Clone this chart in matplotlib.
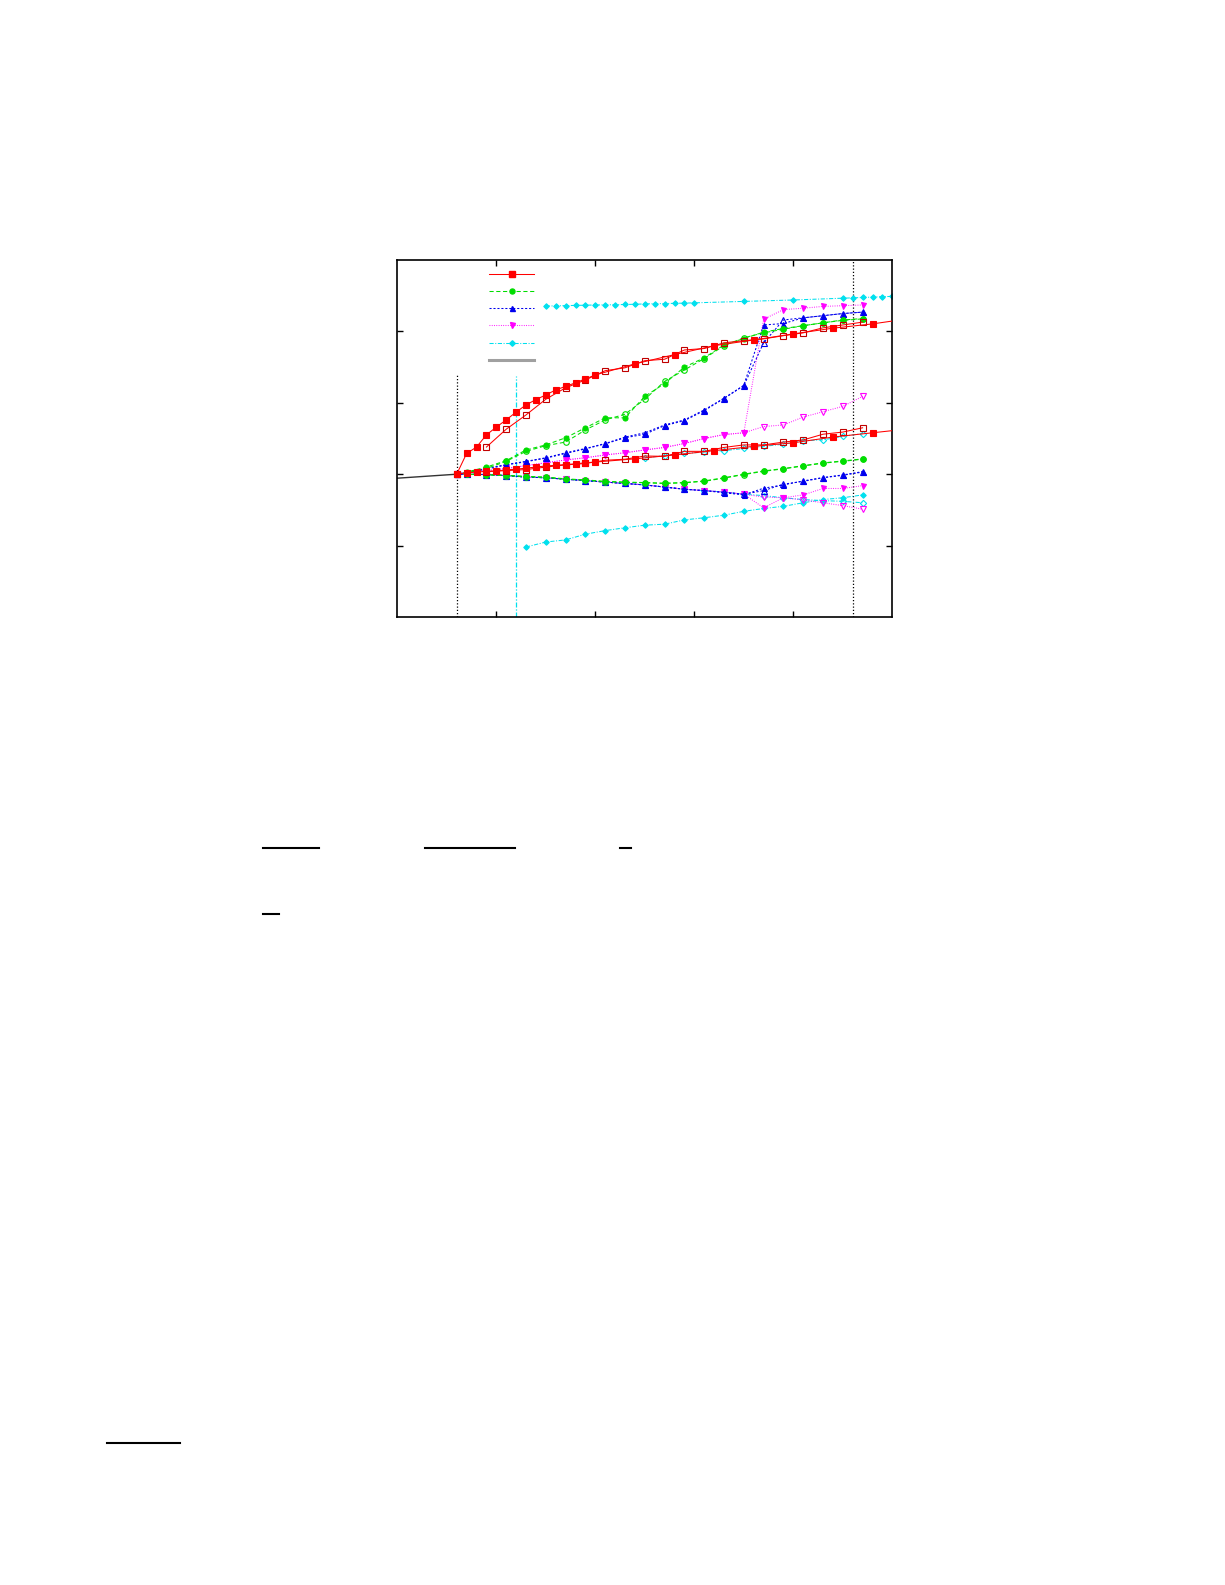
import matplotlib
matplotlib.use("Agg")
import matplotlib.pyplot as plt
from matplotlib.lines import Line2D

# ---------------- data ----------------
# red (filled squares) - upper and lower branch
X_RF = [0.6, 0.7, 0.8, 0.9, 1.0, 1.1, 1.2, 1.3, 1.4, 1.5, 1.6, 1.7, 1.8, 1.9, 2.0,
        2.4, 2.8, 3.2, 3.6, 4.0, 4.4, 4.8, 5.2]
RF_UP = [0.0, 0.29, 0.38, 0.55, 0.66, 0.76, 0.87, 0.97, 1.045, 1.11, 1.18, 1.23, 1.28,
         1.335, 1.39, 1.545, 1.675, 1.80, 1.88, 1.965, 2.045, 2.105, 2.185]
RF_LO = [0.0, 0.02, 0.03, 0.04, 0.046, 0.06, 0.07, 0.085, 0.10, 0.115, 0.125, 0.135,
         0.145, 0.16, 0.17, 0.215, 0.27, 0.33, 0.39, 0.44, 0.52, 0.58, 0.64]
# red (open squares)
X_RO = [0.9, 1.1, 1.3, 1.5, 1.7, 1.9, 2.1, 2.3, 2.5, 2.7, 2.9, 3.1, 3.3, 3.5, 3.7,
        3.9, 4.1, 4.3, 4.5, 4.7]
RO_UP = [0.38, 0.63, 0.83, 1.05, 1.21, 1.32, 1.45, 1.49, 1.59, 1.61, 1.74, 1.76, 1.84,
         1.87, 1.895, 1.94, 1.98, 2.05, 2.09, 2.13]
RO_LO = [0.035, 0.05, 0.065, 0.10, 0.13, 0.15, 0.195, 0.21, 0.255, 0.25, 0.32, 0.32,
         0.375, 0.41, 0.41, 0.45, 0.48, 0.56, 0.59, 0.65]

# common abscissa of green / blue / magenta series
X_C = [0.6, 0.7, 0.9, 1.1, 1.3, 1.5, 1.7, 1.9, 2.1, 2.3, 2.5, 2.7, 2.9, 3.1, 3.3, 3.5,
       3.7, 3.9, 4.1, 4.3, 4.5, 4.7]
GF_UP = [0.0, 0.03, 0.10, 0.19, 0.34, 0.41, 0.51, 0.65, 0.79, 0.79, 1.09, 1.27, 1.50,
         1.63, 1.81, 1.90, 1.99, 2.04, 2.08, 2.12, 2.155, 2.175]
GO_UP = [0.0, 0.02, 0.08, 0.18, 0.32, 0.40, 0.45, 0.62, 0.76, 0.84, 1.05, 1.30, 1.46,
         1.62, 1.80, 1.91, 1.98, 2.03, 2.08, 2.12, 2.16, 2.18]
GF_LO = [0.0, 0.0, -0.005, -0.015, -0.03, -0.04, -0.065, -0.08, -0.10, -0.11, -0.117,
         -0.126, -0.117, -0.094, -0.05, 0.0, 0.046, 0.079, 0.12, 0.158, 0.186, 0.214]
GO_LO = [0.0, 0.0, -0.01, -0.02, -0.035, -0.045, -0.07, -0.085, -0.105, -0.115, -0.12,
         -0.13, -0.12, -0.10, -0.055, -0.005, 0.04, 0.075, 0.115, 0.155, 0.18, 0.21]

BF_UP = [0.0, 0.03, 0.08, 0.135, 0.18, 0.23, 0.30, 0.36, 0.43, 0.52, 0.58, 0.69, 0.76,
         0.90, 1.065, 1.245, 2.09, 2.11, 2.19, 2.22, 2.25, 2.27]
BO_UP = [0.0, 0.02, 0.07, 0.13, 0.175, 0.225, 0.29, 0.355, 0.425, 0.51, 0.56, 0.68,
         0.75, 0.89, 1.06, 1.24, 1.84, 2.16, 2.19, 2.22, 2.25, 2.27]
BF_LO = [0.0, 0.0, -0.005, -0.02, -0.04, -0.05, -0.07, -0.09, -0.11, -0.13, -0.15,
         -0.18, -0.21, -0.23, -0.26, -0.29, -0.196, -0.15, -0.094, -0.047, -0.01, 0.036]
BO_LO = [0.0, 0.0, -0.005, -0.02, -0.04, -0.05, -0.07, -0.09, -0.11, -0.13, -0.15,
         -0.18, -0.21, -0.23, -0.25, -0.28, -0.23, -0.14, -0.10, -0.05, -0.015, 0.03]

MF_UP = [0.0, 0.02, 0.05, 0.08, 0.12, 0.16, 0.20, 0.23, 0.27, 0.30, 0.34, 0.375, 0.43,
         0.50, 0.555, 0.58, 2.17, 2.305, 2.325, 2.35, 2.36, 2.37]
MO_UP = [0.0, 0.02, 0.05, 0.08, 0.12, 0.16, 0.20, 0.23, 0.27, 0.30, 0.34, 0.375, 0.43,
         0.50, 0.555, 0.58, 0.667, 0.69, 0.80, 0.875, 0.95, 1.09]
MF_LO = [0.0, 0.0, -0.005, -0.02, -0.04, -0.05, -0.07, -0.09, -0.11, -0.13, -0.15,
         -0.18, -0.21, -0.23, -0.25, -0.28, -0.47, -0.33, -0.29, -0.20, -0.20, -0.16]
MO_LO = [0.0, 0.0, -0.005, -0.02, -0.04, -0.05, -0.07, -0.09, -0.11, -0.13, -0.15,
         -0.18, -0.21, -0.23, -0.25, -0.28, -0.32, -0.33, -0.36, -0.40, -0.44, -0.49]

# cyan
X_CF_UP = [1.5, 1.6, 1.7, 1.8, 1.9, 2.0, 2.1, 2.2, 2.3, 2.4, 2.5, 2.6, 2.7, 2.8, 2.9,
           3.0, 3.5, 4.0, 4.5, 4.6, 4.7, 4.8, 4.9, 5.0]
CF_UP = [2.355, 2.358, 2.361, 2.364, 2.367, 2.37, 2.372, 2.374, 2.377, 2.38, 2.385,
         2.388, 2.39, 2.393, 2.396, 2.40, 2.42, 2.44, 2.465, 2.47, 2.475, 2.48, 2.487, 2.49]
X_CF_LO = [1.3, 1.5, 1.7, 1.9, 2.1, 2.3, 2.5, 2.7, 2.9, 3.1, 3.3, 3.5, 3.7, 3.9, 4.1,
           4.3, 4.5, 4.7]
CF_LO = [-1.02, -0.95, -0.92, -0.84, -0.79, -0.75, -0.714, -0.70, -0.64, -0.61, -0.574,
         -0.52, -0.48, -0.45, -0.40, -0.355, -0.33, -0.29]
CO_LO = [0.0, 0.0, -0.005, -0.02, -0.04, -0.05, -0.07, -0.09, -0.11, -0.13, -0.15,
         -0.18, -0.21, -0.23, -0.25, -0.28, -0.30, -0.33, -0.355, -0.37, -0.38, -0.40]
X_CO_UP = [2.5, 2.7, 2.9, 3.1, 3.3, 3.5, 3.7, 3.9, 4.1, 4.3, 4.5, 4.7]
CO_UP = [0.23, 0.26, 0.29, 0.31, 0.33, 0.36, 0.39, 0.42, 0.47, 0.48, 0.53, 0.57]

# gray reference line
X_G = [0.0, 0.6]
Y_G = [-0.056, 0.0]

# vertical marker lines
VL_X = [0.6, 4.6]
VL_TOP = [1.39, 3.0]
CYAN_VL_X = 1.2
CYAN_VL_TOP = 1.38

XTICKS = [1, 2, 3, 4]
YTICKS = [-1, 0, 1, 2]

# ---------------- styles ----------------
RED, GREEN, BLUE, MAG, CYAN = "#ff0000", "#00dd00", "#0000ee", "#ff00ff", "#00e0ee"
LS_G = (0, (4, 2.5))
LS_B = (0, (2, 1.8))
LS_M = (0, (0.8, 1.4))
LS_C = (0, (4, 1.5, 1, 1.5))
LW = 0.75

fig = plt.figure(figsize=(12.25, 15.85), dpi=100)
ax = fig.add_axes([397.3 / 1225, 1 - 617 / 1585, 495 / 1225, 357 / 1585])

def series(x, y, color, ls, marker, ms, filled=True, edge=None, z=2):
    ax.plot(x, y, color=color, ls=ls, lw=LW, marker=marker, ms=ms,
            mfc=color if filled else "none", mec=edge or color, mew=0.8, zorder=z)

ax.plot(X_G, Y_G, color="#333333", lw=1.0, zorder=2)

# cyan
series(X_CF_UP, CF_UP, CYAN, LS_C, "D", 2.8, z=2)
series(X_CF_LO, CF_LO, CYAN, LS_C, "D", 2.8, z=2)
series(X_C, CO_LO, CYAN, LS_C, "D", 3.2, filled=False, z=2)
series(X_CO_UP, CO_UP, CYAN, LS_C, "D", 3.2, filled=False, z=2)
# magenta
series(X_C, MF_UP, MAG, LS_M, "v", 3.6, z=3)
series(X_C, MO_UP, MAG, LS_M, "v", 4.0, filled=False, z=3)
series(X_C, MF_LO, MAG, LS_M, "v", 3.6, z=3)
series(X_C, MO_LO, MAG, LS_M, "v", 4.0, filled=False, z=3)
# blue
series(X_C, BF_UP, BLUE, LS_B, "^", 3.6, z=4)
series(X_C, BO_UP, BLUE, LS_B, "^", 4.0, filled=False, z=4)
series(X_C, BF_LO, BLUE, LS_B, "^", 3.6, z=4)
series(X_C, BO_LO, BLUE, LS_B, "^", 4.0, filled=False, z=4)
# green
series(X_C, GF_UP, GREEN, LS_G, "o", 3.6, z=5)
series(X_C, GO_UP, GREEN, LS_G, "o", 4.0, filled=False, z=5)
series(X_C, GF_LO, GREEN, LS_G, "o", 3.6, z=5)
series(X_C, GO_LO, GREEN, LS_G, "o", 4.0, filled=False, z=5)
# red
series(X_RO, RO_UP, RED, "-", "s", 4.6, filled=False, edge="#c00000", z=6)
series(X_RO, RO_LO, RED, "-", "s", 4.6, filled=False, edge="#c00000", z=6)
series(X_RF, RF_UP, RED, "-", "s", 3.8, z=7)
series(X_RF, RF_LO, RED, "-", "s", 3.8, z=7)

# vertical lines
ax.vlines(VL_X, -2, VL_TOP, colors="black", linestyles=[(0, (1, 1.6))], lw=0.9, zorder=1)
ax.vlines([CYAN_VL_X], -2, [CYAN_VL_TOP], colors=CYAN, linestyles=[LS_C], lw=0.9, zorder=1)

ax.set_xlim(0, 5)
ax.set_ylim(-2, 3)
ax.set_xticks(XTICKS)
ax.set_yticks(YTICKS)
ax.tick_params(direction="in", top=True, right=True, length=4.5, width=1.0,
               labelbottom=False, labelleft=False)
for s in ax.spines.values():
    s.set_linewidth(1.2)

# legend (no text in the reference)
handles = [
    Line2D([], [], color=RED, ls="-", lw=LW, marker="s", ms=3.8, mfc=RED, mec=RED),
    Line2D([], [], color=GREEN, ls=LS_G, lw=LW, marker="o", ms=3.6, mfc=GREEN, mec=GREEN),
    Line2D([], [], color=BLUE, ls=LS_B, lw=LW, marker="^", ms=3.6, mfc=BLUE, mec=BLUE),
    Line2D([], [], color=MAG, ls=LS_M, lw=LW, marker="v", ms=3.6, mfc=MAG, mec=MAG),
    Line2D([], [], color=CYAN, ls=LS_C, lw=LW, marker="D", ms=2.8, mfc=CYAN, mec=CYAN),
    Line2D([], [], color="#a0a0a0", ls="-", lw=2.2),
]
ax.legend(handles, [" "] * 6, loc="upper left", bbox_to_anchor=(0.185, 0.972),
          frameon=False, fontsize=8, handlelength=4.1, labelspacing=0.64,
          borderpad=0, borderaxespad=0, handletextpad=0.2, numpoints=1)

# page rules (fraction bars of the surrounding text)
for (x0, x1, y) in [(262.7, 319, 847.7), (425, 515, 847.7), (620, 631, 847.7),
                    (262.7, 279.3, 914.3), (106.7, 180, 1442.7)]:
    fig.add_artist(Line2D([x0 / 1225, x1 / 1225], [1 - y / 1585, 1 - y / 1585],
                          transform=fig.transFigure, color="black", lw=1.5))

fig.savefig("out.png", dpi=100)
